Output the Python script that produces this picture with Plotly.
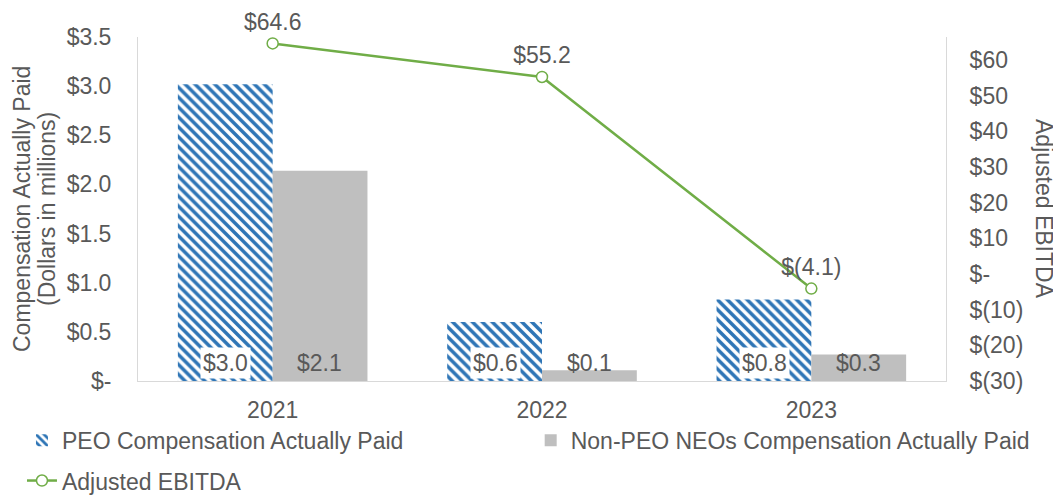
import plotly.graph_objects as go

years = ["2021", "2022", "2023"]
peo_cap = [3.02, 0.60, 0.83]
peo_labels = ["$3.0", "$0.6", "$0.8"]
non_peo_cap = [2.14, 0.11, 0.27]
non_peo_labels = ["$2.1", "$0.1", "$0.3"]
ebitda = [64.6, 55.2, -4.1]
ebitda_labels = ["$64.6", "$55.2", "$(4.1)"]

left_ticks = [0, 0.5, 1.0, 1.5, 2.0, 2.5, 3.0, 3.5]
left_ticktext = ["$-", "$0.5", "$1.0", "$1.5", "$2.0", "$2.5", "$3.0", "$3.5"]
right_ticks = [-30, -20, -10, 0, 10, 20, 30, 40, 50, 60]
right_ticktext = ["$(30)", "$(20)", "$(10)", "$-", "$10", "$20", "$30", "$40", "$50", "$60"]

FONT = "Liberation Sans, Arial, sans-serif"
FS = 23
GRAY = "#595959"
BLUE = "#2E75B6"
BARGRAY = "#BFBFBF"
GREEN = "#70AD47"

pos = list(range(len(years)))

fig = go.Figure()
fig.add_trace(go.Bar(
    x=pos, y=peo_cap, name="PEO Compensation Actually Paid",
    marker=dict(color="white", line=dict(width=0),
                pattern=dict(shape="\\", fgcolor=BLUE, bgcolor="white", fgopacity=1,
                             size=7, solidity=0.5)),
    legend="legend",
))
fig.add_trace(go.Bar(
    x=pos, y=non_peo_cap, name="Non-PEO NEOs Compensation Actually Paid",
    marker=dict(color=BARGRAY, line=dict(width=0)),
    legend="legend2",
))
fig.add_trace(go.Scatter(
    x=pos, y=ebitda, name="Adjusted EBITDA", yaxis="y2",
    mode="lines+markers+text", text=ebitda_labels, textposition="top center",
    textfont=dict(size=FS, color=GRAY, family=FONT), cliponaxis=False,
    line=dict(color=GREEN, width=2.5),
    marker=dict(symbol="circle", size=11, color="white", line=dict(color=GREEN, width=1.5)),
    legend="legend3",
))

annotations = []
for i in pos:
    annotations.append(dict(x=i, y=0, xref="x", yref="y", text=peo_labels[i], showarrow=False,
                            xshift=-47, yshift=2, yanchor="bottom", bgcolor="white",
                            borderpad=2, font=dict(size=FS, color=GRAY, family=FONT)))
    annotations.append(dict(x=i, y=0, xref="x", yref="y", text=non_peo_labels[i], showarrow=False,
                            xshift=47, yshift=2, yanchor="bottom",
                            borderpad=2, font=dict(size=FS, color=GRAY, family=FONT)))

annotations.append(dict(x=0.0, xref="paper", xanchor="center", xshift=-116, y=0.5, yref="paper",
                        text="Compensation Actually Paid", showarrow=False,
                        textangle=-90, font=dict(size=FS, color=GRAY, family=FONT)))
annotations.append(dict(x=0.0, xref="paper", xanchor="center", xshift=-91, y=0.5, yref="paper",
                        text="(Dollars in millions)", showarrow=False,
                        textangle=-90, font=dict(size=FS, color=GRAY, family=FONT)))
annotations.append(dict(x=1.0, xref="paper", xanchor="center", xshift=98, y=0.5, yref="paper",
                        text="Adjusted EBITDA", showarrow=False,
                        textangle=90, font=dict(size=FS, color=GRAY, family=FONT)))

leg_common = dict(orientation="h", xanchor="left", yanchor="top",
                  font=dict(size=FS, color=GRAY, family=FONT), itemwidth=30,
                  bgcolor="rgba(0,0,0,0)")

# page has an 8px body margin; figure is sized/margined so the plot area lands
# at page x 138..946, y 37..381
fig.update_layout(
    width=1053, height=490,
    margin=dict(l=130, r=115, t=29, b=117, autoexpand=False),
    paper_bgcolor="white", plot_bgcolor="white",
    font=dict(family=FONT, size=FS, color=GRAY),
    barmode="group", bargap=0.296, bargroupgap=0,
    showlegend=True,
    legend=dict(x=-0.1436, y=-0.110, **leg_common),
    legend2=dict(x=0.486, y=-0.110, **leg_common),
    legend3=dict(x=-0.1436, y=-0.227, **leg_common),
    xaxis=dict(range=[-0.5, len(years) - 0.5], tickvals=pos, ticktext=years,
               showline=True, linecolor="#D9D9D9", linewidth=1, ticks="", zeroline=False,
               showgrid=False, ticklabelstandoff=8, tickfont=dict(size=FS, color=GRAY)),
    yaxis=dict(range=[0, 3.5], tickvals=left_ticks, ticktext=left_ticktext, showgrid=False,
               showline=True, linecolor="#D9D9D9", linewidth=1, ticks="", zeroline=False,
               ticklabelstandoff=21, tickfont=dict(size=FS, color=GRAY)),
    yaxis2=dict(range=[-30, 66.4], tickvals=right_ticks, ticktext=right_ticktext, overlaying="y",
                side="right", showgrid=False, showline=True, linecolor="#D9D9D9", linewidth=1,
                ticks="", zeroline=False, ticklabelstandoff=18, tickfont=dict(size=FS, color=GRAY)),
    annotations=annotations,
)

fig.write_html("out.html")
